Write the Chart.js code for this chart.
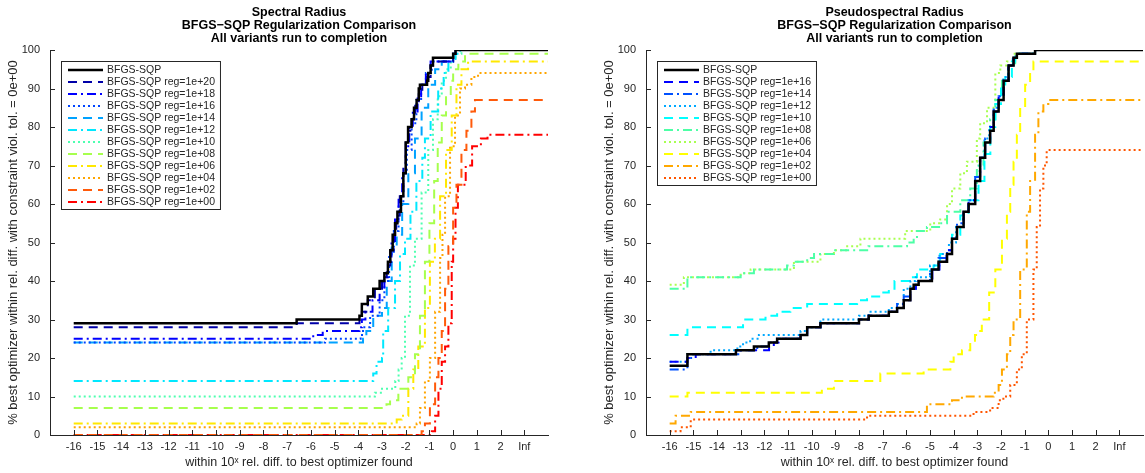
<!DOCTYPE html>
<html>
<head>
<meta charset="utf-8">
<script src="https://cdn.jsdelivr.net/npm/chart.js@4.4.1/dist/chart.umd.min.js"></script>
<style>
html, body { margin: 0; padding: 0; background: #fff; }
#wrap { position: relative; width: 1145px; height: 473px; }
canvas { position: absolute; top: 0; }
</style>
</head>
<body>
<div id="wrap">
  <canvas id="left" width="560" height="473" style="left:0"></canvas>
  <canvas id="right" width="549" height="473" style="left:596px"></canvas>
</div>
<script>
// axis ticks (3 stands for "Inf")
var xTicks = [-16, -15, -14, -13, -12, -11, -10, -9, -8, -7, -6, -5, -4, -3, -2, -1, 0, 1, 2, 3];
var yTicks = [0, 10, 20, 30, 40, 50, 60, 70, 80, 90, 100];

var leftTitle = ['Spectral Radius', 'BFGS\u2212SQP Regularization Comparison', 'All variants run to completion'];
var rightTitle = ['Pseudospectral Radius', 'BFGS\u2212SQP Regularization Comparison', 'All variants run to completion'];

var leftLabels = ['BFGS-SQP', 'BFGS-SQP reg=1e+20', 'BFGS-SQP reg=1e+18', 'BFGS-SQP reg=1e+16', 'BFGS-SQP reg=1e+14',
    'BFGS-SQP reg=1e+12', 'BFGS-SQP reg=1e+10', 'BFGS-SQP reg=1e+08', 'BFGS-SQP reg=1e+06', 'BFGS-SQP reg=1e+04',
    'BFGS-SQP reg=1e+02', 'BFGS-SQP reg=1e+00'];
var rightLabels = ['BFGS-SQP', 'BFGS-SQP reg=1e+16', 'BFGS-SQP reg=1e+14', 'BFGS-SQP reg=1e+12', 'BFGS-SQP reg=1e+10',
    'BFGS-SQP reg=1e+08', 'BFGS-SQP reg=1e+06', 'BFGS-SQP reg=1e+04', 'BFGS-SQP reg=1e+02', 'BFGS-SQP reg=1e+00'];

// spectral radius profiles: [log10 rel. diff, % solved]
var srBase = [[-16,29],[-6.6,30],[-3.95,31],[-3.85,34],[-3.6,36],[-3.37,38],[-3.1,40],[-2.9,42],[-2.75,45],[-2.65,48],[-2.55,52],[-2.45,55],[-2.35,58],[-2.2,62],[-2.1,68],[-2.0,76],[-1.9,80],[-1.75,82],[-1.65,85],[-1.54,87],[-1.45,90],[-1.4,91],[-1.1,92],[-1.05,94],[-0.95,96],[-0.85,98],[0.0,99],[0.1,100],[4,100]];
var sr20 = [[-16,28],[-6.6,29],[-3.95,30],[-3.85,32],[-3.6,35],[-3.3,38],[-3.0,41],[-2.8,44],[-2.65,48],[-2.5,53],[-2.4,57],[-2.25,62],[-2.1,70],[-2.0,76],[-1.9,79],[-1.75,82],[-1.6,86],[-1.45,89],[-1.3,91],[-1.1,93],[-0.95,96],[-0.85,97],[0.0,99],[0.1,100],[4,100]];
var sr18 = [[-16,25],[-5.9,26],[-5.5,27],[-3.95,28],[-3.85,30],[-3.7,32],[-3.4,35],[-3.1,38],[-2.9,41],[-2.75,45],[-2.6,50],[-2.45,56],[-2.3,62],[-2.15,68],[-2.0,75],[-1.85,80],[-1.7,84],[-1.5,88],[-1.35,91],[-1.15,94],[-0.95,97],[0.0,99],[0.1,100],[4,100]];
var sr16 = [[-16,24],[-5.4,25],[-3.9,26],[-3.8,28],[-3.5,31],[-3.1,35],[-2.9,40],[-2.7,47],[-2.5,53],[-2.3,60],[-2.1,68],[-1.95,74],[-1.75,81],[-1.55,87],[-1.35,91],[-1.15,94],[-0.9,97],[0.0,99],[0.1,100],[4,100]];
var sr14 = [[-16,24],[-3.8,25],[-3.66,27],[-3.37,31],[-3.0,33],[-2.8,40],[-2.59,49],[-2.38,52],[-2.15,60],[-1.89,68],[-1.61,77],[-1.33,85],[-1.05,91],[-0.76,95],[-0.48,97],[0.0,99],[0.1,100],[4,100]];
var sr12 = [[-16,14],[-3.37,16],[-3.23,19],[-3.0,20],[-2.95,27],[-2.74,33],[-2.45,40],[-2.24,47],[-2.03,51],[-1.8,58],[-1.55,66],[-1.3,72],[-1.19,77],[-0.95,84],[-0.63,90],[-0.4,94],[-0.2,97],[0.1,99],[0.3,100],[4,100]];
var sr10 = [[-16,10],[-3.3,11],[-3.0,12],[-2.44,14],[-2.3,17],[-2.17,20],[-2.03,31],[-1.82,44],[-1.61,51],[-1.33,63],[-1.05,74],[-0.85,82],[-0.65,88],[-0.48,92],[-0.3,95],[-0.1,98],[0.1,99],[0.35,100],[4,100]];
var sr8 = [[-16,7],[-2.81,8],[-2.66,9],[-2.31,12],[-1.89,15],[-1.61,21],[-1.4,31],[-1.19,45],[-1.0,55],[-0.8,66],[-0.65,76],[-0.48,83],[-0.3,88],[-0.1,92],[0.0,95],[0.22,97],[0.5,99],[4,99]];
var sr6 = [[-16,3],[-2.38,4],[-2.17,5],[-1.89,12],[-1.68,17],[-1.47,23],[-1.19,33],[-0.98,45],[-0.77,51],[-0.55,62],[-0.3,74],[-0.06,83],[0.14,91],[0.35,95],[0.63,97],[4,97]];
var sr4 = [[-16,2],[-1.54,3],[-1.4,7],[-1.19,14],[-0.98,20],[-0.76,32],[-0.55,46],[-0.45,52],[-0.34,62],[-0.13,75],[0.08,83],[0.29,90],[0.5,91],[0.77,93],[1.05,94],[4,94]];
var sr2 = [[-16,0],[-1.33,1],[-1.19,3],[-0.98,8],[-0.76,15],[-0.62,20],[-0.48,27],[-0.34,38],[-0.2,49],[0.0,59],[0.14,65],[0.35,74],[0.56,79],[0.77,84],[0.92,87],[4,87]];
var sr0 = [[-16,0],[-0.9,1],[-0.76,5],[-0.62,12],[-0.48,19],[-0.34,23],[-0.2,29],[-0.06,45],[0.0,51],[0.1,59],[0.2,65],[0.53,70],[0.8,75],[1.17,77],[1.45,78],[4,78]];

// pseudospectral radius profiles
var psBase = [[-16,18],[-15.25,21],[-13.2,22],[-12.44,23],[-11.81,24],[-11.46,25],[-10.47,26],[-10.19,28],[-9.63,29],[-8.0,30],[-7.59,31],[-6.74,32],[-6.39,33],[-6.11,35],[-5.83,38],[-5.69,39],[-5.48,40],[-4.92,43],[-4.64,45],[-4.28,47],[-4.07,51],[-3.86,54],[-3.58,58],[-3.37,60],[-3.09,66],[-2.88,72],[-2.67,76],[-2.46,79],[-2.31,84],[-2.1,87],[-1.89,92],[-1.68,96],[-1.47,98],[-1.33,99],[-0.56,100],[4,100]];
var ps16 = [[-16,19],[-15.25,20],[-14.9,21],[-13.2,22],[-11.8,23],[-11.6,24],[-11.4,25],[-10.47,26],[-10.19,28],[-9.63,29],[-8.0,30],[-7.59,31],[-6.74,32],[-6.39,33],[-6.11,35],[-5.83,38],[-5.6,40],[-4.9,43],[-4.6,45],[-4.3,48],[-4.07,51],[-3.86,54],[-3.58,58],[-3.37,61],[-3.09,66],[-2.88,72],[-2.67,76],[-2.46,80],[-2.31,84],[-2.1,88],[-1.89,92],[-1.68,96],[-1.47,98],[-1.33,99],[-0.56,100],[4,100]];
var ps14 = [[-16,17],[-15.25,20],[-15.0,21],[-13.0,22],[-12.3,23],[-11.81,24],[-11.46,25],[-10.47,26],[-10.19,28],[-9.63,29],[-8.0,30],[-7.59,31],[-6.74,32],[-6.39,34],[-6.11,36],[-5.83,38],[-5.6,40],[-5.0,43],[-4.64,46],[-4.28,48],[-4.07,51],[-3.86,55],[-3.58,58],[-3.37,61],[-3.09,67],[-2.88,72],[-2.67,77],[-2.46,80],[-2.31,85],[-2.1,88],[-1.89,92],[-1.68,96],[-1.47,98],[-1.33,99],[-0.56,100],[4,100]];
var ps12 = [[-16,19],[-15.25,21],[-14.27,22],[-13.14,23],[-12.9,24],[-12.6,25],[-12.23,26],[-10.47,27],[-10.19,28],[-9.63,30],[-8.0,31],[-7.59,32],[-6.74,33],[-6.39,34],[-6.11,38],[-5.83,40],[-5.6,41],[-5.0,44],[-4.6,47],[-4.2,50],[-3.9,54],[-3.6,58],[-3.37,61],[-3.1,67],[-2.9,72],[-2.7,77],[-2.5,80],[-2.3,85],[-2.1,88],[-1.9,93],[-1.7,96],[-1.5,98],[-1.35,99],[-0.56,100],[4,100]];
var ps10 = [[-16,26],[-15.25,28],[-12.9,30],[-11.95,31],[-11.46,32],[-10.9,33],[-10.19,34],[-8.08,35],[-7.66,36],[-7.1,37],[-6.74,38],[-6.5,40],[-5.83,41],[-5.55,43],[-4.85,44],[-4.57,47],[-4.07,52],[-3.72,57],[-3.37,61],[-2.95,66],[-2.7,73],[-2.45,80],[-2.24,86],[-2.0,90],[-1.82,93],[-1.54,97],[-1.4,99],[-0.56,100],[4,100]];
var ps8 = [[-16,38],[-15.25,41],[-13.0,42],[-12.44,43],[-11.04,44],[-10.75,45],[-10.19,46],[-9.9,47],[-9.06,48],[-7.6,49],[-5.97,50],[-5.69,51],[-5.55,53],[-5.13,54],[-4.57,55],[-4.28,58],[-3.72,61],[-3.3,64],[-3.02,70],[-2.74,76],[-2.46,82],[-2.24,87],[-1.96,92],[-1.68,96],[-1.4,99],[-0.56,100],[4,100]];
var ps6 = [[-16,39],[-15.4,41],[-13.0,42],[-12.58,43],[-10.75,45],[-9.63,47],[-9.06,48],[-8.5,49],[-7.94,51],[-6.05,53],[-4.99,55],[-4.57,56],[-4.28,60],[-4.07,64],[-3.72,68],[-3.44,71],[-3.02,77],[-2.88,81],[-2.59,85],[-2.24,94],[-2.03,96],[-1.75,97],[-1.47,99],[-0.6,100],[4,100]];
var ps4 = [[-16,10],[-15.25,11],[-9.57,12],[-9.06,14],[-7.1,16],[-5.27,17],[-4.14,19],[-4.0,21],[-3.65,22],[-3.3,24],[-3.1,26],[-2.95,27],[-2.81,30],[-2.5,37],[-2.24,43],[-1.96,51],[-1.75,58],[-1.61,65],[-1.47,71],[-1.33,78],[-1.19,85],[-0.98,91],[-0.77,95],[-0.63,97],[4,97]];
var ps2 = [[-16,3],[-15.75,5],[-15.11,6],[-5.13,8],[-4.07,9],[-3.65,10],[-2.31,11],[-2.1,13],[-1.96,17],[-1.75,21],[-1.61,26],[-1.47,30],[-1.19,43],[-0.91,58],[-0.77,66],[-0.56,78],[-0.42,84],[-0.21,86],[0.0,87],[4,87]];
var ps0 = [[-16,1],[-15.54,2],[-15.11,4],[-7.66,5],[-3.16,6],[-2.46,7],[-2.1,9],[-1.9,10],[-1.61,13],[-1.33,17],[-1.12,21],[-0.91,30],[-0.63,43],[-0.49,54],[-0.35,64],[-0.21,70],[-0.07,74],[4,74]];

var leftSeries = [srBase, sr20, sr18, sr16, sr14, sr12, sr10, sr8, sr6, sr4, sr2, sr0];
var rightSeries = [psBase, ps16, ps14, ps12, ps10, ps8, ps6, ps4, ps2, ps0];

var leftColors = ['#000000', '#0000a8', '#0000ff', '#0045ff', '#00a2ff', '#00e8ff', '#4dffb0', '#a6ff4d', '#ffe800', '#ffa500', '#ff5a0a', '#ff0000'];
var leftStyles = ['solid', 'dash', 'dashdot', 'dot', 'dash', 'dashdot', 'dot', 'dash', 'dashdot', 'dot', 'dash', 'dashdot'];
var rightColors = ['#000000', '#0000ff', '#0050ff', '#00a8ff', '#00ffff', '#4dffa6', '#a8ff50', '#ffff00', '#ffa800', '#ff5500'];
var rightStyles = ['solid', 'dash', 'dashdot', 'dot', 'dash', 'dashdot', 'dot', 'dash', 'dashdot', 'dot'];

var FONT = '"Liberation Sans", Arial, Helvetica, sans-serif';
var INK = '#262626';
var dashes = { solid: [], dash: [9, 6], dashdot: [9, 4, 2, 4], dot: [2, 3] };

var matlabAxes = {
    id: 'matlabAxes',
    afterDraw: function (chart, args, opts) {
        var ctx = chart.ctx;
        var a = chart.chartArea;
        var xs = chart.scales.x, ys = chart.scales.y;
        ctx.save();

        // inward tick marks
        ctx.strokeStyle = INK;
        ctx.lineWidth = 1;
        ctx.beginPath();
        xs.ticks.forEach(function (t) {
            var px = Math.round(xs.getPixelForValue(t.value)) + 0.5;
            ctx.moveTo(px, a.bottom);
            ctx.lineTo(px, a.bottom - 5);
        });
        ys.ticks.forEach(function (t) {
            var py = Math.round(ys.getPixelForValue(t.value)) + 0.5;
            ctx.moveTo(a.left, py);
            ctx.lineTo(a.left + 5, py);
        });
        ctx.stroke();

        // three-line bold title centred on the axes
        ctx.fillStyle = '#000';
        ctx.font = 'bold 12.5px ' + FONT;
        ctx.textAlign = 'center';
        ctx.textBaseline = 'middle';
        var cx = (a.left + a.right) / 2;
        opts.lines.forEach(function (s, i) {
            ctx.fillText(s, cx, 13 + i * 13);
        });

        // legend box in the upper left
        var sets = chart.data.datasets;
        ctx.font = '10.5px ' + FONT;
        var w = 0;
        sets.forEach(function (d) { w = Math.max(w, ctx.measureText(d.label).width); });
        var x0 = a.left + 11, y0 = a.top + 11;
        var h = 9 + (sets.length - 1) * 12 + 7;
        ctx.fillStyle = '#fff';
        ctx.fillRect(x0, y0, 46 + w + 5, h);
        ctx.strokeStyle = INK;
        ctx.lineWidth = 1;
        ctx.setLineDash([]);
        ctx.strokeRect(x0 + 0.5, y0 + 0.5, 46 + w + 5, h);
        ctx.textAlign = 'left';
        sets.forEach(function (d, i) {
            var yy = y0 + 9 + i * 12;
            ctx.strokeStyle = d.borderColor;
            ctx.lineWidth = d.borderWidth;
            ctx.setLineDash(d.borderDash);
            ctx.beginPath();
            ctx.moveTo(x0 + 7, yy);
            ctx.lineTo(x0 + 42, yy);
            ctx.stroke();
            ctx.fillStyle = INK;
            ctx.fillText(d.label, x0 + 46, yy + 0.5);
        });
        ctx.restore();
    }
};

function makeChart(canvas, title, labels, series, colors, styles, padRight) {
    var datasets = series.map(function (pts, i) {
        return {
            label: labels[i],
            data: pts.map(function (p) { return { x: p[0], y: p[1] }; }),
            borderColor: colors[i],
            borderWidth: i === 0 ? 2.5 : 2,
            borderDash: dashes[styles[i]],
            stepped: true,
            fill: false,
            pointRadius: 0
        };
    });

    return new Chart(canvas.getContext('2d'), {
        type: 'line',
        data: { datasets: datasets },
        options: {
            responsive: false,
            animation: false,
            layout: { padding: { top: 50, right: padRight, left: 0, bottom: 0 } },
            plugins: {
                legend: { display: false },
                tooltip: { enabled: false },
                matlabAxes: { lines: title }
            },
            scales: {
                x: {
                    type: 'linear',
                    min: -17,
                    max: 4,
                    afterBuildTicks: function (scale) {
                        scale.ticks = xTicks.map(function (v) { return { value: v }; });
                    },
                    afterFit: function (scale) { scale.height = 38; },
                    grid: { display: false, drawTicks: false },
                    border: { display: true, color: INK, width: 1 },
                    ticks: {
                        autoSkip: false,
                        maxRotation: 0,
                        padding: 5,
                        color: INK,
                        font: { family: FONT, size: 11 },
                        callback: function (v) { return v === 3 ? 'Inf' : String(v); }
                    },
                    title: {
                        display: true,
                        text: 'within 10\u02e3 rel. diff. to best optimizer found',
                        color: INK,
                        font: { family: FONT, size: 12.5 },
                        padding: { top: 0, bottom: 3 }
                    }
                },
                y: {
                    min: 0,
                    max: 100,
                    afterBuildTicks: function (scale) {
                        scale.ticks = yTicks.map(function (v) { return { value: v }; });
                    },
                    afterFit: function (scale) { scale.width = 50; },
                    grid: { display: false, drawTicks: false },
                    border: { display: true, color: INK, width: 1 },
                    ticks: { padding: 10, color: INK, font: { family: FONT, size: 11 } },
                    title: {
                        display: true,
                        text: '% best optimizer within rel. diff. with constraint viol. tol. = 0e+00',
                        color: INK,
                        font: { family: FONT, size: 13 },
                        padding: { top: 6, bottom: 0 }
                    }
                }
            }
        },
        plugins: [matlabAxes]
    });
}

makeChart(document.getElementById('left'), leftTitle, leftLabels, leftSeries, leftColors, leftStyles, 12);
makeChart(document.getElementById('right'), rightTitle, rightLabels, rightSeries, rightColors, rightStyles, 2);
</script>
</body>
</html>
